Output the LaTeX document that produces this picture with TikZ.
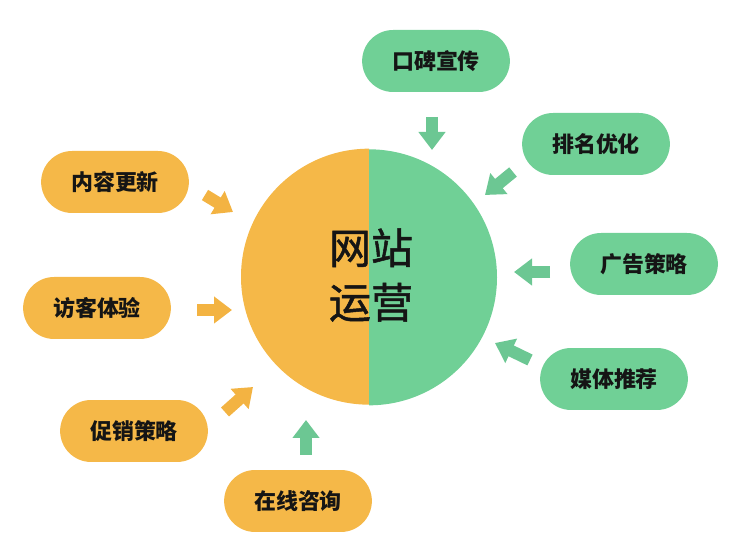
\documentclass[tikz,border=0pt]{standalone}
\usepackage{fontspec}
\newfontfamily\cjk{Noto Sans CJK SC}
\newfontfamily\cjkmid{Noto Sans CJK SC}[FakeBold=1.2]
\usetikzlibrary{shapes.misc,arrows.meta}
\definecolor{pillorange}{HTML}{F5B848}
\definecolor{pillgreen}{HTML}{70D096}
\definecolor{arrgreen}{HTML}{6CC793}
\definecolor{arrorange}{HTML}{F3B342}
\definecolor{inktext}{HTML}{151515}
\begin{document}
\begin{tikzpicture}[x=0.02cm, y=0.02cm,
    pill/.style={rounded rectangle, minimum width=3.19cm, minimum height=1.24cm,
                 text=inktext, font=\cjk\bfseries\fontsize{12.5}{15}\selectfont},
    pillg/.style={pill, fill=pillgreen},
    pillo/.style={pill, fill=pillorange},
    arr/.style={line width=0.24cm, -{Triangle[width=0.52cm,length=0.36cm]}},
    arrg/.style={arr, color=arrgreen},
    arro/.style={arr, color=arrorange}
  ]
    \useasboundingbox (0,0) rectangle (744,554);

    \node[circle, minimum size=5.12cm, inner sep=0pt] (circ) at (369,277) {};
    \fill[pillorange] (circ.north) arc[start angle=90, end angle=270, radius=128] -- cycle;
    \fill[pillgreen] (circ.south) arc[start angle=-90, end angle=90, radius=128] -- cycle;
    \node[align=center, text=inktext, font=\cjkmid\fontsize{24}{31}\selectfont] (title) at (371,279) {网站\\运营};

    \node[pillg] (kb) at (436,493) {口碑宣传};
    \node[pillg] (pm) at (596,410) {排名优化};
    \node[pillg] (gg) at (644,290) {广告策略};
    \node[pillg] (mt) at (614,175) {媒体推荐};
    \node[pillo] (zx) at (298,53)  {在线咨询};
    \node[pillo] (cx) at (134,123) {促销策略};
    \node[pillo] (fk) at (97,246)  {访客体验};
    \node[pillo] (nr) at (115,372) {内容更新};

    \coordinate (kbA) at (432,437); \coordinate (kbB) at (432,404);
    \coordinate (pmA) at (513,382); \coordinate (pmB) at (485,359);
    \coordinate (ggA) at (550,282); \coordinate (ggB) at (514,282);
    \coordinate (mtA) at (530,194); \coordinate (mtB) at (495,211);
    \coordinate (zxA) at (306,99);  \coordinate (zxB) at (306,134);
    \coordinate (cxA) at (225,142); \coordinate (cxB) at (253,167);
    \coordinate (fkA) at (197,244); \coordinate (fkB) at (232,244);
    \coordinate (nrA) at (205,359); \coordinate (nrB) at (233,342);

    \draw[arrg] (kbA) -- (kbB);
    \draw[arrg] (pmA) -- (pmB);
    \draw[arrg] (ggA) -- (ggB);
    \draw[arrg] (mtA) -- (mtB);
    \draw[arrg] (zxA) -- (zxB);
    \draw[arro] (cxA) -- (cxB);
    \draw[arro] (fkA) -- (fkB);
    \draw[arro] (nrA) -- (nrB);
  \end{tikzpicture}
\end{document}
